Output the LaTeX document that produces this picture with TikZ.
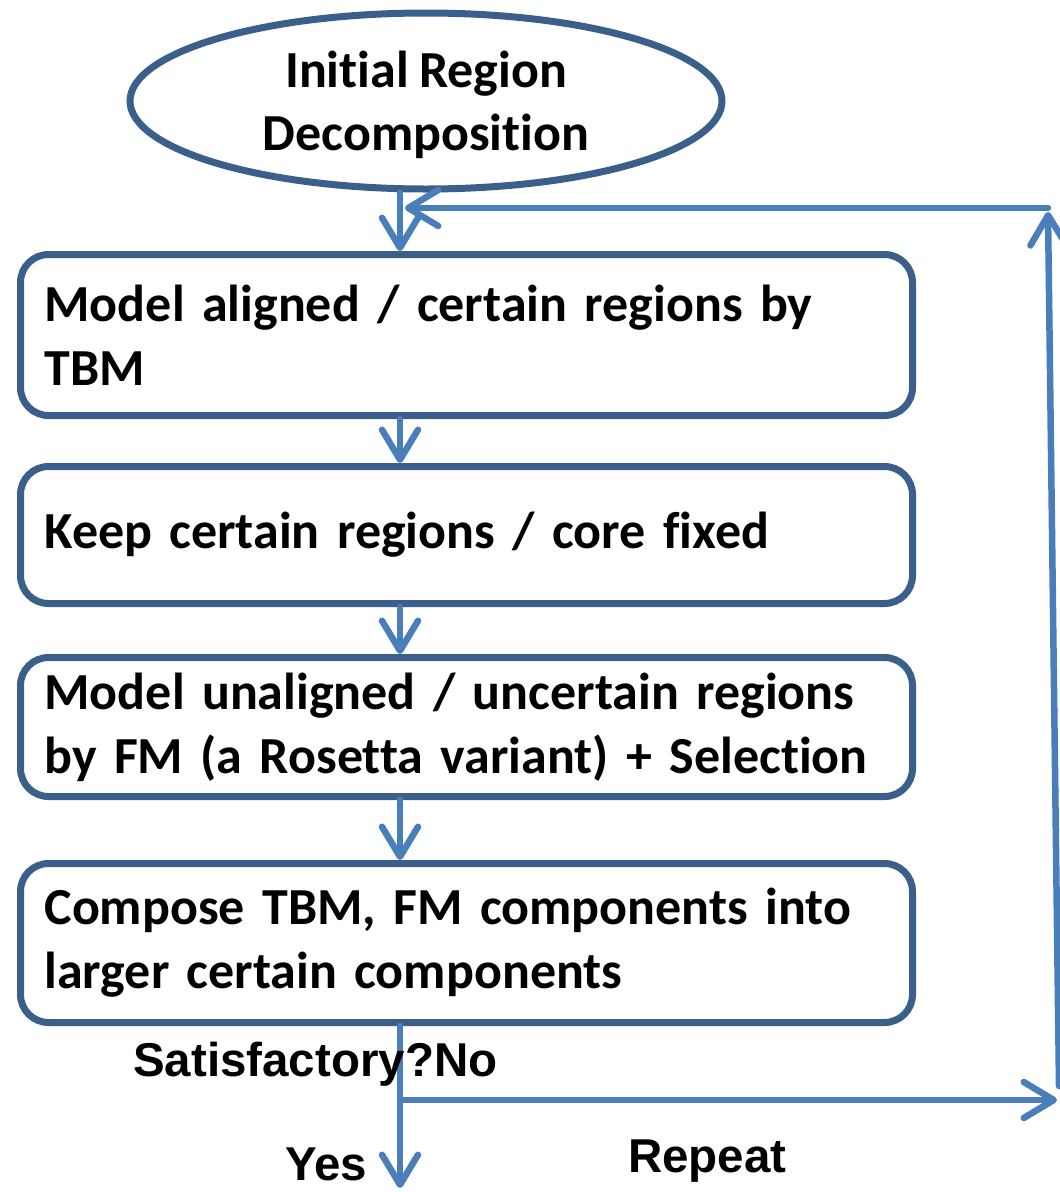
\documentclass[tikz,border=0pt]{standalone}
\usepackage{fontspec}
\setmainfont{Carlito}[Ligatures=NoCommon, WordSpace=0.85]
\newfontfamily\arialfont{Liberation Sans}
\usetikzlibrary{arrows.meta,shapes.geometric}
\definecolor{boxblue}{RGB}{58,95,139}
\definecolor{arrblue}{RGB}{74,126,187}
\begin{document}
\begin{tikzpicture}[x=1pt,y=-1pt,
  flowbox/.style={draw=boxblue, line width=7pt, rounded corners=28pt,
    text width=844pt, inner xsep=24pt, inner ysep=0pt, align=left,
    font=\fontsize{52}{64}\selectfont\bfseries, anchor=north west},
  startell/.style={ellipse, draw=boxblue, line width=7pt, minimum width=592pt,
    minimum height=176pt, inner sep=0pt, align=center, text depth=0pt,
    font=\fontsize{52}{63}\selectfont\bfseries},
  arr/.style={draw=arrblue, line width=6.5pt, line cap=round,
    -{Straight Barb[length=30pt,width=36pt,round]}},
  lbl/.style={anchor=base west, inner sep=0pt,
    font=\arialfont\bfseries\fontsize{47.5}{56}\selectfont}]
\useasboundingbox (0,0) rectangle (1060,1192);

\node[startell] (ell) at (426,101) {Initial Region\\Decomposition};
\node[flowbox, minimum height=161pt] (b1) at (17,251) {Model aligned / certain regions by TBM};
\node[flowbox, minimum height=137pt] (b2) at (17,463) {Keep certain regions / core fixed};
\node[flowbox, minimum height=139pt] (b3) at (17,654) {Model unaligned / uncertain regions by FM (a Rosetta variant) + Selection};
\node[flowbox, minimum height=159pt] (b4) at (17,860) {Compose TBM, FM components into larger certain components};

\coordinate (cx) at (400,0);
\coordinate (split) at (400,1100);
\coordinate (yesend) at (400,1188);
\coordinate (noend) at (1057,1100);
\coordinate (upbot) at (1059,1086);
\coordinate (uptop) at (1048,212);
\coordinate (backend) at (405,208);
\coordinate (corner) at (1048,208);

\draw[arr] (cx |- ell.south) -- (cx |- b1.north);
\draw[arr] (cx |- b1.south) -- (cx |- b2.north);
\draw[arr] (cx |- b2.south) -- (cx |- b3.north);
\draw[arr] (cx |- b3.south) -- (cx |- b4.north);
\draw[arr] (cx |- b4.south) -- (yesend);
\draw[arr] (split) -- (noend);
\draw[arr] (upbot) -- (uptop);
\draw[arr] (corner) -- (backend);

\node[lbl] (sat) at (133,1076) {Satisfactory?No};
\node[lbl] (yes) at (285,1180) {Yes};
\node[lbl] (rep) at (628,1172) {Repeat};
\end{tikzpicture}
\end{document}
